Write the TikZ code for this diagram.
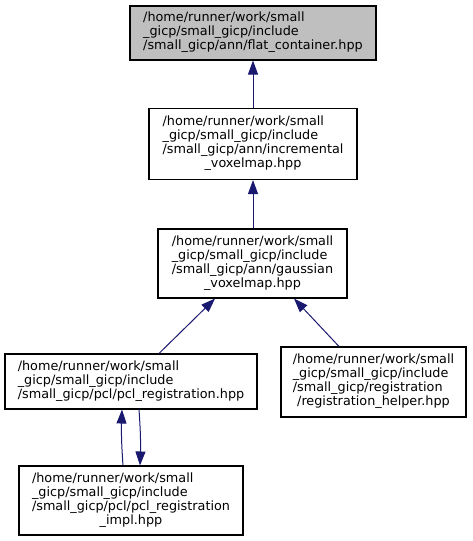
\documentclass[tikz,border=0pt]{standalone}
\usepackage{fontspec}
\setmainfont{DejaVu Sans}
\usetikzlibrary{arrows.meta}
\definecolor{edgeblue}{HTML}{191970}
\definecolor{headgrey}{HTML}{BFBFBF}
\newcommand{\lns}[2]{\begin{tabular}{@{}l@{}}#1\\\multicolumn{1}{@{}c@{}}{#2}\end{tabular}}
\tikzset{
  box/.style={draw=black, line width=1.1pt, fill=white, inner sep=0pt,
    font=\fontsize{12.8}{14}\selectfont},
  edge/.style={draw=edgeblue, line width=1pt,
    -{Triangle[length=14pt,width=10pt]}}
}
\begin{document}
\begin{tikzpicture}[x=1pt,y=-1pt]
\useasboundingbox (0,0) rectangle (472,541);
\node[box, fill=headgrey, minimum width=246, minimum height=54] (n1) at (253,33)
  {\lns{/home/runner/work/small\\\_gicp/small\_gicp/include}{/small\_gicp/ann/flat\_container.hpp}};
\node[box, minimum width=208, minimum height=71] (n2) at (253,144)
  {\lns{/home/runner/work/small\\\_gicp/small\_gicp/include\\/small\_gicp/ann/incremental}{\_voxelmap.hpp}};
\node[box, minimum width=189, minimum height=69] (n3) at (252.5,263.5)
  {\lns{/home/runner/work/small\\\_gicp/small\_gicp/include\\/small\_gicp/ann/gaussian}{\_voxelmap.hpp}};
\node[box, minimum width=252, minimum height=55] (n4) at (131,381.5)
  {\lns{/home/runner/work/small\\\_gicp/small\_gicp/include}{/small\_gicp/pcl/pcl\_registration.hpp}};
\node[box, minimum width=185, minimum height=70] (n5) at (373.5,382)
  {\lns{/home/runner/work/small\\\_gicp/small\_gicp/include\\/small\_gicp/registration}{/registration\_helper.hpp}};
\node[box, minimum width=224, minimum height=69] (n6) at (131,500.5)
  {\lns{/home/runner/work/small\\\_gicp/small\_gicp/include\\/small\_gicp/pcl/pcl\_registration}{\_impl.hpp}};
\draw[edge] (n2.north) -- (n1.south);
\draw[edge] ([xshift=0.5pt]n3.north) -- (n2.south);
\draw[edge] ([xshift=28pt]n4.north) -- ([xshift=-37.5pt]n3.south);
\draw[edge] ([xshift=-34.5pt]n5.north) -- ([xshift=41.5pt]n3.south);
\draw[edge] ([xshift=-8pt]n6.north) to[bend left=3] ([xshift=-9pt]n4.south);
\draw[edge] ([xshift=8pt]n4.south) to[bend left=3] ([xshift=9pt]n6.north);
\end{tikzpicture}
\end{document}
